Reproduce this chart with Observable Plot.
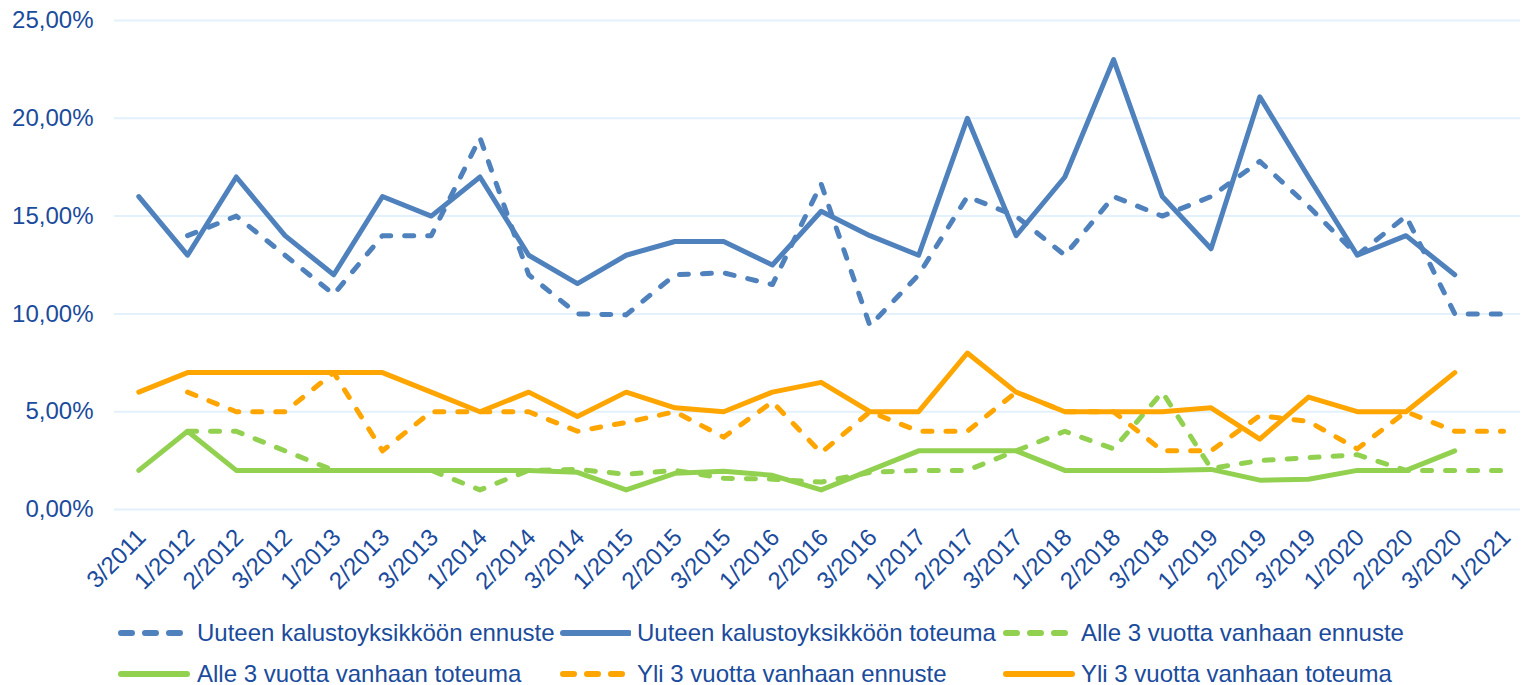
<!DOCTYPE html>
<html>
<head>
<meta charset="utf-8">
<script src="https://cdn.jsdelivr.net/npm/d3@7"></script>
<script src="https://cdn.jsdelivr.net/npm/@observablehq/plot@0.6"></script>
<style>
  html, body { margin: 0; padding: 0; background: #fff; }
  #wrap { position: relative; width: 1522px; height: 685px; font-family: "Liberation Sans", Arial, sans-serif; color: #1A4B9C; }
  .lg { position: absolute; display: flex; align-items: center; height: 30px; font-size: 24px; white-space: nowrap; }
  .lg svg { display: block; }
</style>
</head>
<body>
<div id="wrap"><div id="chart"></div></div>
<script>
const cats = ["3/2011","1/2012","2/2012","3/2012","1/2013","2/2013","3/2013","1/2014","2/2014","3/2014","1/2015","2/2015","3/2015","1/2016","2/2016","3/2016","1/2017","2/2017","3/2017","1/2018","2/2018","3/2018","1/2019","2/2019","3/2019","1/2020","2/2020","3/2020","1/2021"];

const uuteenEnnuste = [null,14,15,13,11,14,14,19,12,10,9.95,12,12.1,11.5,16.65,9.4,12,16,15,13,16,15,16,17.8,15.5,13,15,10,10];
const uuteenToteuma = [16,13,17,14,12,16,15,17,13,11.55,13,13.7,13.7,12.5,15.25,14,13,20,14,17,23,16,13.33,21.1,17,13,14,12,null];
const alleEnnuste = [null,4,4,3,2,2,2,1,2,2.05,1.8,2,1.6,1.55,1.4,1.9,2,2,3,4,3.1,6,2.1,2.5,2.65,2.8,2,2,2];
const alleToteuma = [2,4,2,2,2,2,2,2,2,1.9,1,1.85,1.95,1.75,1,2,3,3,3,2,2,2,2.05,1.5,1.55,2,2,3,null];
const yliEnnuste = [null,6,5,5,7,3,5,5,5,4,4.45,5,3.7,5.5,2.9,5,4,4,6,5,5,3,3,4.8,4.5,3.1,5,4,4];
const yliToteuma = [6,7,7,7,7,7,6,5,6,4.75,6,5.2,5,6,6.5,5,5,8,6,5,5,5,5.2,3.6,5.75,5,5,7,null];

const yTicks = [0,5,10,15,20,25];
const seriesNames = ["Uuteen kalustoyksikköön ennuste","Uuteen kalustoyksikköön toteuma","Alle 3 vuotta vanhaan ennuste","Alle 3 vuotta vanhaan toteuma","Yli 3 vuotta vanhaan ennuste","Yli 3 vuotta vanhaan toteuma"];
const seriesValues = [uuteenEnnuste, uuteenToteuma, alleEnnuste, alleToteuma, yliEnnuste, yliToteuma];
const seriesColors = ["#4F81BD","#4F81BD","#92D050","#92D050","#FFA500","#FFA500"];
const seriesDashed = [true,false,true,false,true,false];

const DASH = "9,14";
const lineMarks = seriesValues.map((vals, k) =>
  Plot.line(cats.map((c, i) => ({c, v: vals[i]})), {
    x: "c", y: "v",
    stroke: seriesColors[k], strokeWidth: 5,
    strokeDasharray: seriesDashed[k] ? DASH : null,
    strokeLinecap: "round", strokeLinejoin: "round"
  })
);

const chart = Plot.plot({
  width: 1522, height: 600,
  marginLeft: 114, marginRight: 2, marginTop: 20, marginBottom: 91,
  style: {fontFamily: '"Liberation Sans", Arial, sans-serif', color: "#1A4B9C", background: "#fff"},
  x: {type: "point", domain: cats, range: [138.3, 1503], padding: 0, round: false, axis: null},
  y: {domain: [0, 25], axis: null},
  marks: [
    Plot.ruleY(yTicks, {stroke: "#E2F1FB", strokeWidth: 2}),
    Plot.axisY(yTicks, {label: null, tickSize: 0, tickPadding: 21, fontSize: 24, tickFormat: d => d.toFixed(2).replace(".", ",") + "%"}),
    Plot.axisX(cats, {label: null, tickSize: 0, tickRotate: -45, tickPadding: 24, dx: 3, fontSize: 24}),
    ...lineMarks
  ]
});
document.getElementById("chart").appendChild(chart);

// legend
const wrap = document.getElementById("wrap");
const legendPos = [
  {sx: 118, tx: 197, y: 633},
  {sx: 560, tx: 637, y: 633},
  {sx: 1003, tx: 1081, y: 633},
  {sx: 118, tx: 197, y: 674},
  {sx: 560, tx: 637, y: 674},
  {sx: 1003, tx: 1081, y: 674}
];
seriesNames.forEach((name, k) => {
  const p = legendPos[k];
  const swW = p.tx - p.sx - 6;
  const div = document.createElement("div");
  div.className = "lg";
  div.style.left = p.sx + "px";
  div.style.top = (p.y - 15) + "px";
  const line = seriesDashed[k]
    ? `<line x1="3" y1="6" x2="62" y2="6" stroke="${seriesColors[k]}" stroke-width="6" stroke-linecap="round" stroke-dasharray="11,13"/>`
    : `<line x1="3" y1="6" x2="69" y2="6" stroke="${seriesColors[k]}" stroke-width="6" stroke-linecap="round"/>`;
  div.innerHTML = `<svg width="${swW}" height="12">${line}</svg><span style="margin-left:6px">${name}</span>`;
  wrap.appendChild(div);
});
</script>
</body>
</html>
